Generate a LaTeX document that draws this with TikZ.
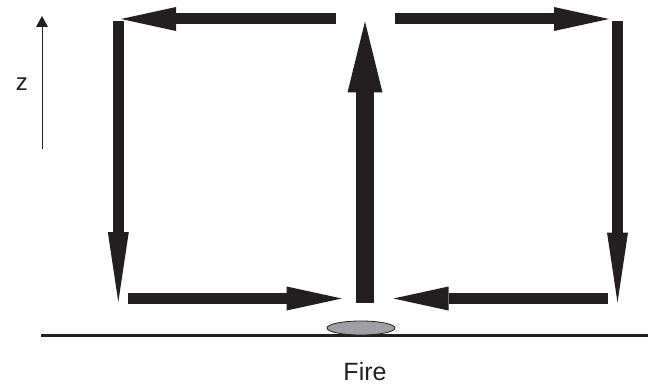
\documentclass[tikz,border=0pt]{standalone}
\usepackage{fontspec}
\setmainfont{Liberation Sans}
\usetikzlibrary{arrows.meta,shapes.geometric}
\definecolor{ink}{RGB}{35,31,32}
\definecolor{smoke}{RGB}{160,160,164}
\begin{document}
\begin{tikzpicture}[x=1pt,y=-1pt,
  flow/.style={draw=ink,line width=11pt},
  hhead/.style={-{Triangle[length=55pt,width=24pt,line width=0pt]}},
  vhead/.style={-{Triangle[length=70pt,width=21pt,line width=0pt]}},
  label/.style={inner sep=0pt,text=ink,font=\fontsize{24}{28}\selectfont}]
  \useasboundingbox (0,0) rectangle (653,385);

  % axis indicator
  \coordinate (zfoot) at (42,149);
  \coordinate (ztip) at (42,16);
  \draw[draw=ink,line width=1pt,-{Triangle[length=11pt,width=12pt,line width=0pt]}] (zfoot) -- (ztip);
  \node[label] (zlab) at (22,84) {z};

  % rising plume
  \coordinate (cbase) at (365,302.5);
  \coordinate (ctop) at (365,21.5);
  \draw[draw=ink,line width=18pt,-{Triangle[length=71pt,width=35pt,line width=0pt]}] (cbase) -- (ctop);

  % outflow along the ceiling
  \coordinate (tlstart) at (335.5,19);
  \coordinate (tlend) at (121,19);
  \coordinate (trstart) at (394.5,19);
  \coordinate (trend) at (609,19);
  \draw[flow,hhead] (tlstart) -- (tlend);
  \draw[flow,hhead] (trstart) -- (trend);

  % descent along the walls
  \coordinate (lwtop) at (118.3,21);
  \coordinate (lwbot) at (118.3,302);
  \coordinate (rwtop) at (617.5,21.5);
  \coordinate (rwbot) at (617.5,302.5);
  \draw[flow,vhead] (lwtop) -- (lwbot);
  \draw[flow,vhead] (rwtop) -- (rwbot);

  % inflow along the floor
  \coordinate (blstart) at (127.7,298.5);
  \coordinate (blend) at (341.7,298.5);
  \coordinate (brstart) at (608,298.5);
  \coordinate (brend) at (393.5,298.5);
  \draw[flow,hhead] (blstart) -- (blend);
  \draw[flow,hhead] (brstart) -- (brend);

  % floor and fire source
  \coordinate (floorL) at (41,335.4);
  \coordinate (floorR) at (648,335.4);
  \draw[draw=ink,line width=2.5pt] (floorL) -- (floorR);
  \node[draw=ink,line width=0.8pt,fill=smoke,ellipse,minimum width=68pt,minimum height=14pt,inner sep=0pt] (fire) at (361,328) {};
  \node[label,font=\fontsize{25}{30}\selectfont] (firelab) at (365,372) {Fire};
\end{tikzpicture}
\end{document}
